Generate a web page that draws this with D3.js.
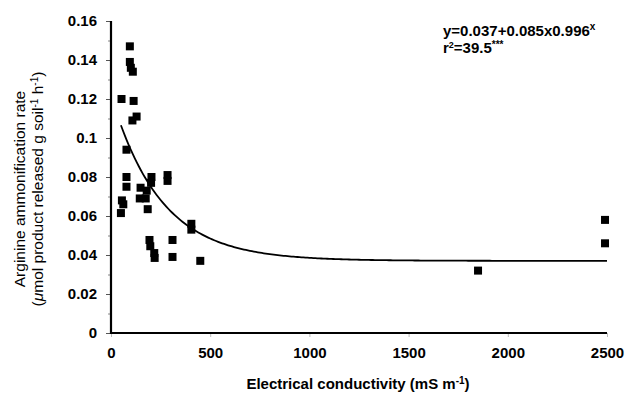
<!DOCTYPE html>
<html><head><meta charset="utf-8">
<script src="https://cdn.jsdelivr.net/npm/d3@7"></script>
<style>body{margin:0;background:#fff}svg{display:block}</style>
</head><body>
<svg id="c" width="637" height="403"></svg>
<script>
const ec = [95, 95, 100, 110, 53, 114, 129, 108, 78, 78, 78, 204, 202, 285, 285, 149, 180, 145, 175, 185, 55, 62, 50, 194, 198, 218, 220, 310, 310, 405, 405, 450, 1850, 2490, 2490];
const rate = [0.147, 0.139, 0.136, 0.134, 0.120, 0.119, 0.111, 0.109, 0.094, 0.080, 0.075, 0.080, 0.077, 0.081, 0.078, 0.0745, 0.073, 0.069, 0.069, 0.0635, 0.068, 0.066, 0.0615, 0.0477, 0.0445, 0.041, 0.0385, 0.0477, 0.039, 0.056, 0.053, 0.037, 0.032, 0.058, 0.046];
const xTicks = [0, 500, 1000, 1500, 2000, 2500];
const yTicks = [0, 0.02, 0.04, 0.06, 0.08, 0.1, 0.12, 0.14, 0.16];
const yMinor = [0.01, 0.03, 0.05, 0.07, 0.09, 0.11, 0.13, 0.15];
const fitA = 0.037, fitB = 0.085, fitC = 0.996, fitFrom = 50, fitTo = 2500;

const svg = d3.select("#c");
const x = d3.scaleLinear().domain([0, 2500]).range([111, 607]);
const y = d3.scaleLinear().domain([0, 0.16]).range([333, 21]);
const font = "'Liberation Sans', Arial, sans-serif";

// y axis
const ya = svg.append("g").attr("transform", "translate(111,0)")
  .call(d3.axisLeft(y).tickValues(yTicks).tickSize(5).tickPadding(9)
    .tickFormat(d => d === 0 ? "0" : String(+d.toFixed(2))));
ya.select(".domain").remove();
ya.selectAll("text").attr("font-family", font).attr("font-size", 15).attr("font-weight", "bold").attr("fill", "#000");
ya.selectAll("line").attr("stroke", "#555");
svg.append("g").attr("transform", "translate(111,0)")
  .call(d3.axisLeft(y).tickValues(yMinor).tickSize(3).tickFormat(""))
  .call(g => g.select(".domain").remove())
  .selectAll("line").attr("stroke", "#888");

// x axis
const xa = svg.append("g").attr("transform", "translate(0,333)")
  .call(d3.axisBottom(x).tickValues(xTicks).tickSize(4).tickPadding(10).tickFormat(d3.format("d")));
xa.select(".domain").remove();
xa.selectAll("text").attr("font-family", font).attr("font-size", 15).attr("font-weight", "bold").attr("fill", "#000");
xa.selectAll("line").attr("stroke", "#bbb");

// axis lines
svg.append("line").attr("x1", 111).attr("x2", 111).attr("y1", y(0.16)).attr("y2", 334).attr("stroke", "#000").attr("stroke-width", 2.2);
svg.append("line").attr("x1", 110).attr("x2", x(2500)).attr("y1", 333).attr("y2", 333).attr("stroke", "#000").attr("stroke-width", 2.2);

// fitted curve
const fx = d3.range(fitFrom, fitTo + 1, 10);
svg.append("path").datum(fx)
  .attr("d", d3.line().x(d => x(d)).y(d => y(fitA + fitB * Math.pow(fitC, d))))
  .attr("fill", "none").attr("stroke", "#000").attr("stroke-width", 1.8);

// points
svg.append("g").selectAll("rect").data(ec.map((e, i) => [e, rate[i]])).join("rect")
  .attr("x", d => x(d[0]) - 4).attr("y", d => y(d[1]) - 4)
  .attr("width", 8).attr("height", 8).attr("fill", "#000");

// equation
const eq = svg.append("text").attr("x", 443).attr("y", 36).attr("font-family", font).attr("font-size", 15).attr("font-weight", "bold");
eq.append("tspan").text("y=0.037+0.085x0.996");
eq.append("tspan").attr("dy", -6).attr("font-size", 10).text("x");
const r2 = svg.append("text").attr("x", 443).attr("y", 53).attr("font-family", font).attr("font-size", 15).attr("font-weight", "bold");
r2.append("tspan").text("r");
r2.append("tspan").attr("dy", -5).attr("font-size", 9).text("2");
r2.append("tspan").attr("dy", 5).text("=39.5");
r2.append("tspan").attr("dy", -5).attr("font-size", 10).text("***");

// x title
const xt = svg.append("text").attr("x", 358).attr("y", 389).attr("text-anchor", "middle")
  .attr("font-family", font).attr("font-size", 15).attr("font-weight", "bold");
xt.append("tspan").text("Electrical conductivity (mS m");
xt.append("tspan").attr("dy", -5).attr("font-size", 10).text("-1");
xt.append("tspan").attr("dy", 5).text(")");

// y title
const yt = svg.append("g").attr("transform", "translate(0,189) rotate(-90)");
yt.append("text").attr("x", 0).attr("y", 25).attr("text-anchor", "middle")
  .attr("font-family", font).attr("font-size", 15.5).text("Arginine ammonification rate");
const l2 = yt.append("text").attr("x", 0).attr("y", 43).attr("text-anchor", "middle")
  .attr("font-family", font).attr("font-size", 15.5);
l2.append("tspan").text("(");
l2.append("tspan").attr("font-style", "italic").text("μ");
l2.append("tspan").text("mol product released g soil");
l2.append("tspan").attr("dy", -5).attr("font-size", 10).text("-1");
l2.append("tspan").attr("dy", 5).text(" h");
l2.append("tspan").attr("dy", -5).attr("font-size", 10).text("-1");
l2.append("tspan").attr("dy", 5).text(")");
</script>
</body></html>
